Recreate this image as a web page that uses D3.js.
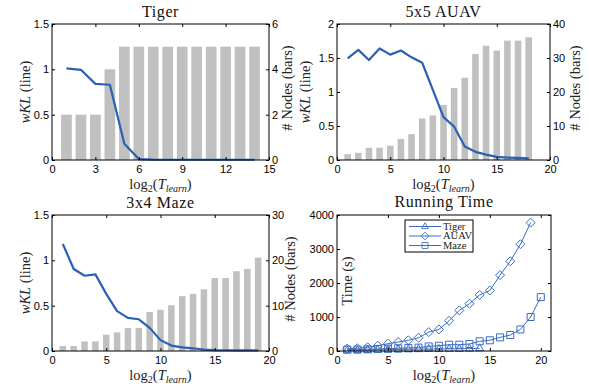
<!DOCTYPE html>
<html>
<head>
<meta charset="utf-8">
<script src="https://cdn.jsdelivr.net/npm/d3@7"></script>
<style>
body { margin: 0; background: #fff; }
.tick text { font-family: "Liberation Sans", Arial, sans-serif; font-size: 11px; fill: #000; }
.lab { font-family: "Liberation Serif", "DejaVu Serif", serif; font-size: 14.5px; fill: #222; }
.ttl { font-family: "Liberation Serif", "DejaVu Serif", serif; font-size: 16px; fill: #111; letter-spacing: 0.6px; }
.leg { font-family: "Liberation Serif", "DejaVu Serif", serif; font-size: 10.5px; fill: #222; }
</style>
</head>
<body>
<svg width="589" height="391"></svg>
<script>
// Tiger
var tigerX = [1,2,3,4,5,6,7,8,9,10,11,12,13,14];
var tigerNodes = [2,2,2,4,5,5,5,5,5,5,5,5,5,5];
var tigerKL = [1.01,0.995,0.84,0.83,0.18,0.01,0.004,0.003,0.003,0.003,0.003,0.003,0.003,0.003];

// 5x5 AUAV
var auavX = [1,2,3,4,5,6,7,8,9,10,11,12,13,14,15,16,17,18];
var auavNodes = [1.7,2.1,3.6,3.6,4.2,6.2,7.6,12.2,13.1,16.2,21.2,24.2,31.2,33.6,32.2,35.1,35.1,36.1];
var auavKL = [1.495,1.62,1.47,1.64,1.55,1.61,1.51,1.43,1.03,0.63,0.49,0.2,0.12,0.08,0.045,0.035,0.03,0.025];

// 3x4 Maze
var mazeX = [1,2,3,4,5,6,7,8,9,10,11,12,13,14,15,16,17,18,19];
var mazeNodes = [1.1,1.1,2.1,2.1,3.6,4.1,5.1,5.1,8.6,9.1,10.1,12.1,12.6,13.6,16.1,16.1,17.6,18.1,20.6];
var mazeKL = [1.18,0.905,0.83,0.845,0.63,0.44,0.365,0.35,0.255,0.12,0.06,0.04,0.03,0.015,0.01,0.008,0.007,0.007,0.007];

// Running time (s)
var timeTigerX = [1,2,3,4,5,6,7,8,9,10,11,12,13,14];
var timeTiger = [20,25,30,35,40,45,50,55,60,60,65,65,70,80];
var timeAuavX = [1,2,3,4,5,6,7,8,9,10,11,12,13,14,15,16,17,18,19];
var timeAuav = [70,80,110,155,215,265,315,390,555,635,890,1195,1390,1650,1780,2230,2640,3140,3775];
var timeMazeX = [1,2,3,4,5,6,7,8,9,10,11,12,13,14,15,16,17,18,19,20];
var timeMaze = [40,40,50,60,70,80,90,100,135,155,185,185,205,285,315,400,470,635,1000,1585];

var seriesNames = ["Tiger","AUAV","Maze"];

var lineColor = "#2b60b4";
var timeColor = "#3a6cc4";
var barColor = "#c0c0c0";

var svg = d3.select("svg");

var fmt = function(d){ return String(d); };

function xLabel(g, cx, y){
  var t = g.append("text").attr("class","lab").attr("x",cx).attr("y",y).attr("text-anchor","middle");
  t.append("tspan").text("log");
  t.append("tspan").attr("dy",3).style("font-size","10px").text("2");
  t.append("tspan").attr("dy",-3).text("(");
  t.append("tspan").style("font-style","italic").text("T");
  t.append("tspan").attr("dy",3).style("font-size","10px").style("font-style","italic").text("learn");
  t.append("tspan").attr("dy",-3).text(")");
}

function yLabel(g, cx, cy, italic, rest){
  var t = g.append("text").attr("class","lab")
    .attr("transform","translate(" + cx + "," + cy + ") rotate(-90)")
    .attr("text-anchor","middle").attr("dy","0.35em");
  if (italic) t.append("tspan").style("font-style","italic").text(italic);
  t.append("tspan").text(rest);
}

function frame(g, x, yL, o){
  g.append("g").attr("transform","translate(0," + o.y1 + ")")
    .call(d3.axisBottom(x).tickValues(o.xTicks).tickFormat(fmt).tickSizeInner(-3).tickSizeOuter(0).tickPadding(5));
  g.append("g").attr("transform","translate(0," + o.y0 + ")")
    .call(d3.axisTop(x).tickValues(o.xTicks).tickFormat("").tickSizeInner(-3).tickSizeOuter(0));
  g.append("g").attr("transform","translate(" + o.x0 + ",0)")
    .call(d3.axisLeft(yL).tickValues(o.yLTicks).tickFormat(fmt).tickSizeInner(-3).tickSizeOuter(0).tickPadding(3));
  g.selectAll(".domain").remove();
  g.append("rect").attr("x",o.x0).attr("y",o.y0)
    .attr("width",o.x1 - o.x0).attr("height",o.y1 - o.y0)
    .attr("fill","none").attr("stroke","#000").attr("stroke-width",1);
}

function barPanel(o){
  var g = svg.append("g");
  var x = d3.scaleLinear().domain(o.xDom).range([o.x0, o.x1]);
  var yL = d3.scaleLinear().domain(o.yLDom).range([o.y1, o.y0]);
  var yR = d3.scaleLinear().domain(o.yRDom).range([o.y1, o.y0]);
  var bw = o.barW * (x(1) - x(0));

  g.selectAll("rect.bar").data(o.bars).enter().append("rect")
    .attr("class","bar")
    .attr("x", function(d,i){ return x(o.xs[i]) - bw/2; })
    .attr("y", function(d){ return yR(d); })
    .attr("width", bw)
    .attr("height", function(d){ return yR(0) - yR(d); })
    .attr("fill", barColor);

  var line = d3.line()
    .x(function(d,i){ return x(o.xs[i]); })
    .y(function(d){ return yL(d); });
  g.append("path").datum(o.kl)
    .attr("d", line).attr("fill","none")
    .attr("stroke", lineColor).attr("stroke-width",2.2).attr("stroke-linejoin","round");

  frame(g, x, yL, o);
  var r = g.append("g").attr("transform","translate(" + o.x1 + ",0)")
    .call(d3.axisRight(yR).tickValues(o.yRTicks).tickFormat(fmt).tickSizeInner(-3).tickSizeOuter(0).tickPadding(3));
  r.select(".domain").remove();

  g.append("text").attr("class","ttl").attr("x",(o.x0 + o.x1)/2).attr("y",o.y0 - 7)
    .attr("text-anchor","middle").text(o.title);
  xLabel(g, (o.x0 + o.x1)/2, o.y1 + 29);
  yLabel(g, o.leftLab, (o.y0 + o.y1)/2, "wKL", " (line)");
  yLabel(g, o.rightLab, (o.y0 + o.y1)/2 - 4, null, "# Nodes (bars)");
}

barPanel({
  title: "Tiger", x0: 52, x1: 269, y0: 24, y1: 160,
  xDom: [0,15], xTicks: [0,3,6,9,12,15],
  yLDom: [0,1.5], yLTicks: [0,0.5,1,1.5],
  yRDom: [0,6], yRTicks: [0,2,4,6],
  xs: tigerX, bars: tigerNodes, kl: tigerKL, barW: 0.74,
  leftLab: 25, rightLab: 287
});

barPanel({
  title: "5x5 AUAV", x0: 337, x1: 550, y0: 24, y1: 160,
  xDom: [0,20], xTicks: [0,5,10,15,20],
  yLDom: [0,2], yLTicks: [0,0.5,1,1.5,2],
  yRDom: [0,40], yRTicks: [0,10,20,30,40],
  xs: auavX, bars: auavNodes, kl: auavKL, barW: 0.62,
  leftLab: 305, rightLab: 575
});

barPanel({
  title: "3x4 Maze", x0: 52, x1: 269, y0: 215, y1: 351,
  xDom: [0,20], xTicks: [0,5,10,15,20],
  yLDom: [0,1.5], yLTicks: [0,0.5,1,1.5],
  yRDom: [0,30], yRTicks: [0,10,20,30],
  xs: mazeX, bars: mazeNodes, kl: mazeKL, barW: 0.6,
  leftLab: 25, rightLab: 290
});

// Running time panel
(function(){
  var o = { x0: 337, x1: 551, y0: 215, y1: 351,
    xTicks: [0,5,10,15,20], yLTicks: [0,1000,2000,3000,4000] };
  var g = svg.append("g");
  var x = d3.scaleLinear().domain([0,21]).range([o.x0, o.x1]);
  var y = d3.scaleLinear().domain([0,4000]).range([o.y1, o.y0]);

  var markers = {
    Tiger: "M0,-4.5L4,2.5L-4,2.5Z",
    AUAV: "M0,-4.5L4.5,0L0,4.5L-4.5,0Z",
    Maze: "M-3.5,-3.5L3.5,-3.5L3.5,3.5L-3.5,3.5Z"
  };
  var series = [
    { name: seriesNames[0], xs: timeTigerX, ys: timeTiger },
    { name: seriesNames[1], xs: timeAuavX, ys: timeAuav },
    { name: seriesNames[2], xs: timeMazeX, ys: timeMaze }
  ];

  series.forEach(function(s){
    var line = d3.line()
      .x(function(d,i){ return x(s.xs[i]); })
      .y(function(d){ return y(d); });
    g.append("path").datum(s.ys).attr("d", line)
      .attr("fill","none").attr("stroke", timeColor).attr("stroke-width",1);
    g.selectAll("path.m" + s.name).data(s.ys).enter().append("path")
      .attr("class","m" + s.name)
      .attr("transform", function(d,i){ return "translate(" + x(s.xs[i]) + "," + y(d) + ")"; })
      .attr("d", markers[s.name])
      .attr("fill","none").attr("stroke", timeColor).attr("stroke-width",1);
  });

  frame(g, x, y, o);
  var r = g.append("g").attr("transform","translate(" + o.x1 + ",0)")
    .call(d3.axisRight(y).tickValues(o.yLTicks).tickFormat("").tickSizeInner(-3).tickSizeOuter(0));
  r.select(".domain").remove();

  g.append("text").attr("class","ttl").attr("x",(o.x0 + o.x1)/2).attr("y",o.y0 - 8)
    .attr("text-anchor","middle").attr("letter-spacing","1.2px").text("Running Time");
  xLabel(g, (o.x0 + o.x1)/2, o.y1 + 29);
  yLabel(g, 347, 281, null, "Time (s)");

  // legend
  var lg = g.append("g").attr("transform","translate(405,220)");
  lg.append("rect").attr("width",68).attr("height",32)
    .attr("fill","#fff").attr("stroke","#000").attr("stroke-width",1);
  series.forEach(function(s,i){
    var yy = 6.5 + i * 9.5;
    lg.append("line").attr("x1",4).attr("x2",36).attr("y1",yy).attr("y2",yy)
      .attr("stroke", timeColor).attr("stroke-width",1);
    lg.append("path").attr("transform","translate(20," + yy + ") scale(0.85)")
      .attr("d", markers[s.name]).attr("fill","none").attr("stroke", timeColor);
    lg.append("text").attr("class","leg").attr("x",38).attr("y",yy).attr("dy","0.33em").text(s.name);
  });
})();
</script>
</body>
</html>
